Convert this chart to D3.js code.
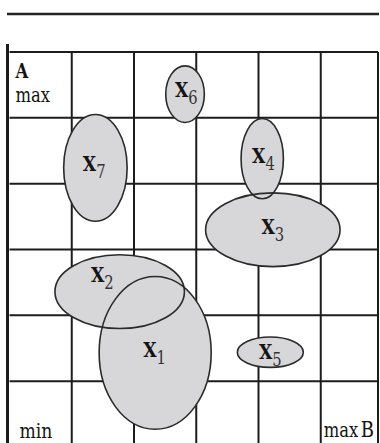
<!DOCTYPE html>
<html>
<head>
<meta charset="utf-8">
<script src="https://cdn.jsdelivr.net/npm/d3@7"></script>
<style>
  html, body { margin: 0; padding: 0; background: #fff; }
  svg { display: block; }
  text { font-family: "DejaVu Serif", "Liberation Serif", serif; fill: #141414; }
</style>
</head>
<body>
<div id="chart"></div>
<script>
// ellipse data, in grid units: B along the bottom, A up the side
const names = ["1", "2", "3", "4", "5", "6", "7"];
const centerB = [2.34, 1.77, 4.23, 4.06, 4.19, 2.82, 1.38];
const centerA = [1.43, 2.36, 3.30, 4.38, 1.44, 5.36, 4.24];
const radiusB = [0.90, 1.04, 1.08, 0.34, 0.53, 0.31, 0.51];
const radiusA = [1.16, 0.56, 0.56, 0.61, 0.23, 0.43, 0.81];
// where each X label sits (baseline of the X)
const labelB = [2.33, 1.49, 4.23, 4.08, 4.19, 2.84, 1.36];
const labelA = [1.36, 2.50, 3.24, 4.32, 1.34, 5.31, 4.20];
const gridTicks = [1, 2, 3, 4, 5];

const width = 380, height = 443;
const squeeze = 0.82; // the print face is narrower than DejaVu

const svg = d3.select("#chart")
    .append("svg")
    .attr("width", width)
    .attr("height", height);

const x = d3.scaleLinear().domain([0, 6]).range([9.5, 383]);
const y = d3.scaleLinear().domain([0, 6]).range([447, 52]);

const right = width - 2;

// rule across the top
svg.append("line")
    .attr("x1", 7).attr("x2", 379)
    .attr("y1", 14).attr("y2", 14)
    .attr("stroke", "#222")
    .attr("stroke-width", 2.5);

const grid = svg.append("g")
    .attr("stroke", "#1c1c1c")
    .attr("stroke-width", 2);

grid.selectAll("line.v")
    .data(gridTicks)
    .enter().append("line")
    .attr("class", "v")
    .attr("x1", d => x(d)).attr("x2", d => x(d))
    .attr("y1", y(6)).attr("y2", height);

grid.selectAll("line.h")
    .data(gridTicks.concat([6]))
    .enter().append("line")
    .attr("class", "h")
    .attr("x1", x(0)).attr("x2", right)
    .attr("y1", d => y(d)).attr("y2", d => y(d));

// frame sides
grid.append("line")
    .attr("x1", x(0) - 2).attr("x2", x(0) - 2)
    .attr("y1", y(6) - 8).attr("y2", height)
    .attr("stroke-width", 3);
grid.append("line")
    .attr("x1", right).attr("x2", right)
    .attr("y1", y(6)).attr("y2", height);

const blobs = names.map((n, i) => ({
    name: n,
    cx: x(centerB[i]),
    cy: y(centerA[i]),
    rx: x(radiusB[i]) - x(0),
    ry: y(0) - y(radiusA[i]),
    lx: x(labelB[i]),
    ly: y(labelA[i])
}));

// fills first, then outlines so overlaps show both edges
svg.append("g")
    .selectAll("ellipse")
    .data(blobs)
    .enter().append("ellipse")
    .attr("cx", d => d.cx).attr("cy", d => d.cy)
    .attr("rx", d => d.rx).attr("ry", d => d.ry)
    .attr("fill", "#d7d7d9");

svg.append("g")
    .selectAll("ellipse")
    .data(blobs)
    .enter().append("ellipse")
    .attr("cx", d => d.cx).attr("cy", d => d.cy)
    .attr("rx", d => d.rx).attr("ry", d => d.ry)
    .attr("fill", "none")
    .attr("stroke", "#2a2a2a")
    .attr("stroke-width", 1.6);

const labels = svg.append("g")
    .selectAll("g")
    .data(blobs)
    .enter().append("g")
    .attr("transform", d => `translate(${d.lx},${d.ly}) scale(${squeeze},1)`)
  .append("text")
    .attr("text-anchor", "middle");

labels.append("tspan")
    .attr("font-size", 21)
    .attr("font-weight", "bold")
    .text("X");
labels.append("tspan")
    .attr("font-size", 18)
    .attr("dy", 7)
    .attr("fill", "#333")
    .text(d => d.name);

function word(px, py, anchor) {
    return svg.append("g")
        .attr("transform", `translate(${px},${py}) scale(${squeeze},1)`)
      .append("text")
        .attr("text-anchor", anchor);
}

// axis words
word(x(0) + 6, y(6) + 26, "start")
    .attr("font-size", 20).attr("font-weight", "bold")
    .text("A");
word(x(0) + 6, y(6) + 50, "start")
    .attr("font-size", 20)
    .text("max");
word(x(0) + 10, 438, "start")
    .attr("font-size", 21)
    .text("min");
const mb = word(right - 4, 437, "end");
mb.append("tspan").attr("font-size", 20).text("max");
mb.append("tspan").attr("dx", 3).attr("font-size", 22).text("B");
</script>
</body>
</html>
